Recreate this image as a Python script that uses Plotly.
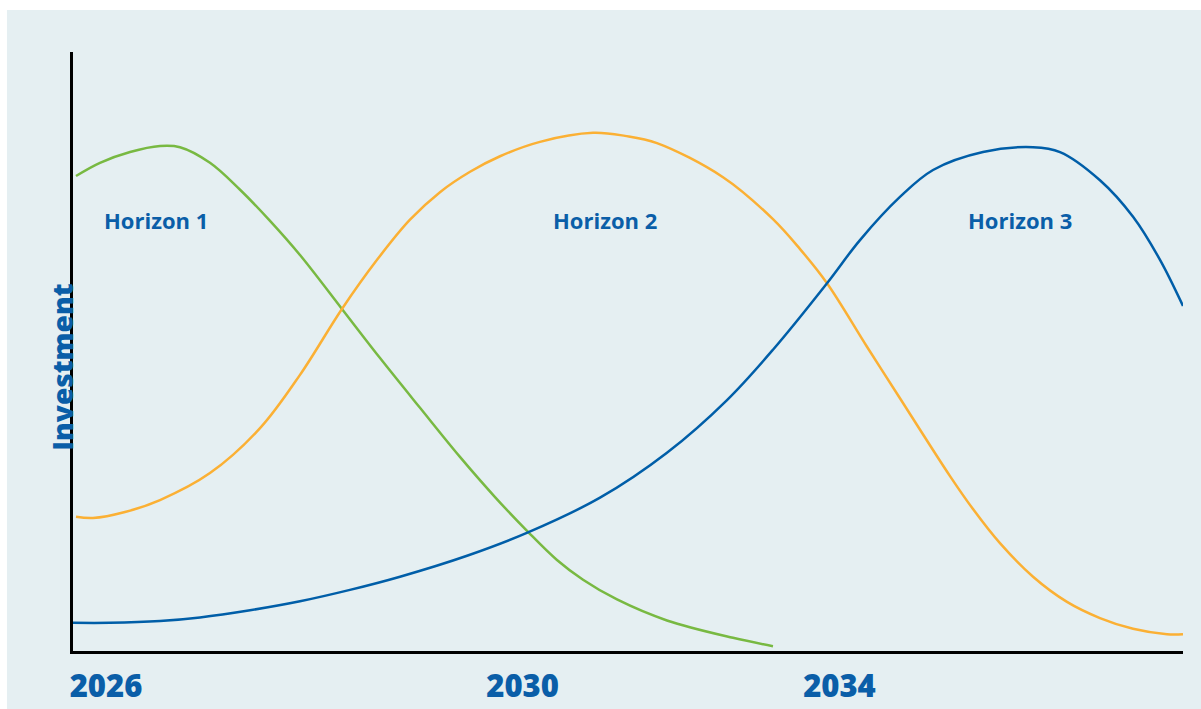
import plotly.graph_objects as go

# ---- data (abstract horizontal position 0-100, investment index 0-100) ----
h1_x = [0.27, 2.43, 5.14, 7.84, 9.64, 12.34, 15.05, 17.75, 20.45, 24.23, 27.66, 31.26, 34.86,
        38.02, 40.99, 43.60, 45.95, 49.01, 53.51, 59.46, 63.06]
h1_y = [79.3, 81.5, 83.3, 84.3, 84.1, 81.5, 77.0, 71.8, 66.1, 57.1, 48.9, 40.6, 32.4,
        25.7, 19.9, 15.2, 11.9, 8.6, 5.1, 2.2, 0.8]

h2_x = [0.27, 1.80, 4.68, 7.84, 12.34, 16.85, 20.45, 24.23, 27.39, 30.36, 33.06, 35.77, 38.47,
        42.07, 46.85, 49.73, 52.61, 58.56, 63.06, 65.50, 67.93, 71.53, 74.50, 79.01, 81.08,
        83.51, 86.49, 89.55, 92.52, 95.50, 98.56, 100.0]
h2_y = [22.4, 22.2, 23.2, 25.2, 29.7, 37.2, 46.1, 57.1, 65.3, 72.0, 76.6, 80.0, 82.6,
        85.0, 86.5, 86.0, 84.8, 79.1, 72.1, 67.1, 61.4, 50.8, 42.2, 29.2, 23.7,
        18.0, 12.4, 8.2, 5.5, 3.7, 2.8, 2.8]

h3_x = [0.0, 3.33, 7.84, 11.44, 15.95, 20.45, 24.95, 29.46, 35.50, 40.99, 47.48, 53.51, 58.92,
        63.06, 67.93, 70.90, 74.50, 77.48, 81.98, 86.49, 88.92, 92.52, 95.50, 97.93, 100.0]
h3_y = [4.7, 4.7, 5.0, 5.6, 6.8, 8.3, 10.2, 12.4, 15.9, 19.8, 25.6, 33.1, 41.9,
        50.3, 61.4, 68.6, 75.8, 80.3, 83.3, 84.1, 83.3, 78.6, 72.5, 65.3, 57.6]

tick_pos = [2.97, 40.50, 69.05]
tick_labels = ["2026", "2030", "2034"]

label_names = ["Horizon 1", "Horizon 2", "Horizon 3"]
label_x = [7.48, 47.93, 85.32]
label_y = [72.0, 72.0, 72.0]

# ---- style ----
PANEL = "#e5eff2"
TEXT_BLUE = "#0a5ea8"
GREEN = "#78b942"
ORANGE = "#fbb034"
BLUE = "#005ea8"
FONT = "Open Sans"

fig = go.Figure()
for xs, ys, col, name in [(h1_x, h1_y, GREEN, label_names[0]),
                          (h2_x, h2_y, ORANGE, label_names[1]),
                          (h3_x, h3_y, BLUE, label_names[2])]:
    fig.add_trace(go.Scatter(x=xs, y=ys, mode="lines", name=name,
                             line=dict(color=col, width=2.5, shape="spline", smoothing=1.0),
                             hoverinfo="skip"))

for name, x, y in zip(label_names, label_x, label_y):
    fig.add_annotation(x=x, y=y, xref="x", yref="y", text=name, showarrow=False,
                       font=dict(family=FONT, size=22, color=TEXT_BLUE, weight="bold"))

fig.add_annotation(xref="paper", yref="paper", x=-0.0288, y=0.473, text="Investment",
                   textangle=-90, showarrow=False,
                   font=dict(family=FONT, size=28, color=TEXT_BLUE, weight=800))

# background panel
fig.add_shape(type="rect", xref="paper", yref="paper",
              x0=-0.0595, x1=1.02, y0=-0.11, y1=1.07,
              fillcolor=PANEL, line=dict(width=0), layer="below")

fig.update_layout(
    width=1201, height=709,
    margin=dict(l=73, r=18, t=52, b=58, autoexpand=False),
    paper_bgcolor="white", plot_bgcolor=PANEL,
    showlegend=False,
    xaxis=dict(range=[0, 100], showgrid=False, zeroline=False, showline=True,
               linecolor="black", linewidth=2.5, ticks="", automargin=False,
               tickmode="array", tickvals=tick_pos, ticktext=tick_labels,
               tickfont=dict(family=FONT, size=31, color=TEXT_BLUE, weight=800),
               ticklabelstandoff=6, fixedrange=True),
    yaxis=dict(range=[0, 100], showgrid=False, zeroline=False, showline=True,
               linecolor="black", linewidth=2.5, showticklabels=False, ticks="",
               automargin=False, fixedrange=True),
)

fig.write_html("out.html")
